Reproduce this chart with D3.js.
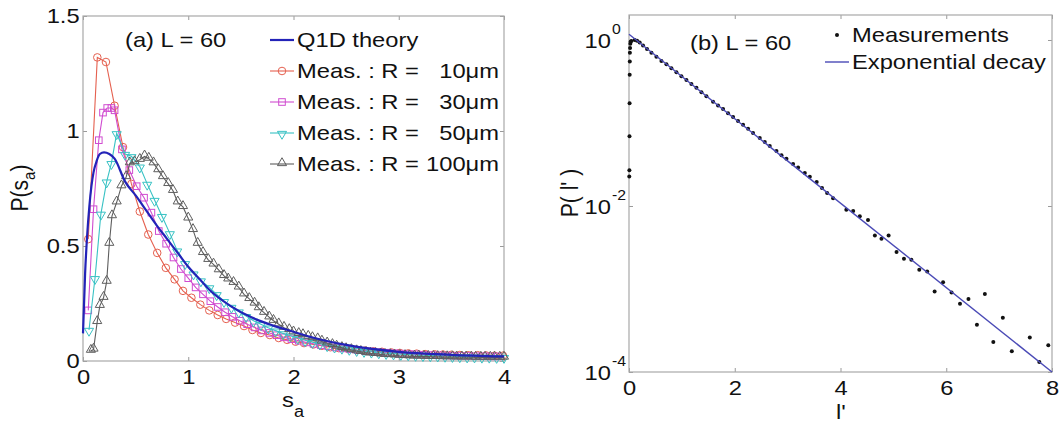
<!DOCTYPE html>
<html>
<head>
<meta charset="utf-8">
<script src="https://cdnjs.cloudflare.com/ajax/libs/d3/7.8.5/d3.min.js"></script>
<style>
body{margin:0;background:#fff;}
text{font-family:"Liberation Sans",Arial,sans-serif;fill:#111;}
</style>
</head>
<body>
<svg id="fig" width="1061" height="423"></svg>
<script>

// panel (a) : distribution of s_a
var theoryS = [0,0.02,0.04,0.06,0.08,0.1,0.13,0.16,0.2,0.25,0.3,0.4,0.5,0.6,0.7,0.8,0.9,1.0,1.1,1.2,1.4,1.6,1.8,2.0,2.2,2.5,3.0,3.5,4.0];
var theoryP = [0.12,0.38,0.55,0.67,0.76,0.82,0.87,0.9,0.907,0.9,0.88,0.78,0.72,0.655,0.59,0.53,0.47,0.41,0.36,0.31,0.24,0.19,0.155,0.127,0.1,0.07,0.04,0.027,0.02];

var r10S = [0.05,0.136,0.218,0.30,0.38,0.46,0.54,0.62,0.705,0.787,0.87,0.95,1.03,1.115,1.2,1.28,1.36,1.445,1.53,1.61,1.69,1.775,1.86,1.94,2.02,2.1,2.19,2.27,2.35,2.43,2.52,2.6,2.68,2.76,2.84,2.93,3.01,3.09,3.17,3.25,3.34,3.42,3.5,3.58,3.66,3.75,3.83,3.91,3.99];
var r10P = [0.53,1.32,1.30,1.11,0.93,0.77,0.65,0.55,0.47,0.405,0.355,0.305,0.275,0.245,0.22,0.2,0.183,0.167,0.152,0.135,0.122,0.113,0.1,0.092,0.084,0.078,0.072,0.066,0.06,0.056,0.052,0.048,0.045,0.042,0.04,0.037,0.035,0.033,0.032,0.03,0.029,0.028,0.027,0.026,0.025,0.025,0.024,0.023,0.023];

var r30S = [0.05,0.10,0.15,0.19,0.23,0.27,0.30,0.37,0.44,0.51,0.58,0.65,0.72,0.79,0.86,0.93,1.0,1.07,1.14,1.21,1.28,1.35,1.42,1.49,1.56,1.63,1.70,1.77,1.84,1.91,1.98,2.05,2.12,2.19,2.26,2.33,2.40,2.47,2.54,2.61,2.68,2.75,2.82,2.89,2.96,3.03,3.10,3.17,3.24,3.31,3.38,3.45,3.52,3.59,3.66,3.73,3.80,3.87,3.94];
var r30P = [0.22,0.66,0.96,1.08,1.10,1.10,1.09,0.92,0.83,0.76,0.71,0.645,0.565,0.51,0.45,0.40,0.36,0.32,0.29,0.26,0.235,0.212,0.192,0.175,0.16,0.146,0.133,0.122,0.112,0.103,0.095,0.088,0.081,0.075,0.069,0.064,0.059,0.055,0.051,0.047,0.044,0.041,0.038,0.036,0.034,0.032,0.030,0.029,0.027,0.026,0.025,0.024,0.023,0.022,0.022,0.021,0.021,0.020,0.020];

var r50S = [0.057,0.114,0.17,0.225,0.27,0.32,0.40,0.46,0.54,0.61,0.68,0.75,0.825,0.895,0.97,1.05,1.12,1.2,1.27,1.34,1.41,1.48,1.55,1.62,1.69,1.76,1.83,1.9,1.97,2.04,2.11,2.18,2.25,2.32,2.39,2.46,2.53,2.6,2.67,2.74,2.81,2.88,2.95,3.02,3.09,3.16,3.23,3.3,3.37,3.44,3.51,3.58,3.65,3.72,3.79,3.86,3.93,4.0];
var r50P = [0.135,0.36,0.64,0.78,0.86,0.99,0.90,0.89,0.845,0.77,0.70,0.63,0.555,0.48,0.425,0.38,0.35,0.32,0.29,0.26,0.235,0.215,0.195,0.175,0.16,0.145,0.132,0.12,0.11,0.1,0.09,0.082,0.075,0.068,0.062,0.057,0.052,0.047,0.043,0.04,0.037,0.034,0.032,0.03,0.028,0.026,0.025,0.024,0.023,0.022,0.021,0.02,0.019,0.019,0.018,0.018,0.017,0.017];

var r100S = [0.075,0.1,0.135,0.16,0.195,0.225,0.25,0.275,0.32,0.365,0.41,0.445,0.49,0.54,0.585,0.625,0.67,0.715,0.76,0.81,0.855,0.9,0.95,1.0,1.045,1.09,1.14,1.19,1.24,1.29,1.34,1.38,1.43,1.48,1.53,1.58,1.63,1.67,1.72,1.77,1.81,1.86,1.91,1.96,2.0,2.05,2.09,2.14,2.18,2.23,2.27,2.32,2.37,2.41,2.46,2.5,2.55,2.6,2.64,2.69,2.73,2.78,2.83,2.87,2.92,2.96,3.01,3.06,3.1,3.15,3.19,3.24,3.28,3.33,3.37,3.42,3.46,3.51,3.55,3.6,3.64,3.69,3.73,3.78,3.82,3.87,3.91,3.96,4.0];
var r100P = [0.045,0.05,0.17,0.24,0.275,0.345,0.51,0.63,0.69,0.76,0.80,0.86,0.865,0.875,0.89,0.88,0.86,0.83,0.80,0.77,0.74,0.69,0.67,0.62,0.57,0.51,0.47,0.44,0.42,0.395,0.37,0.355,0.34,0.32,0.29,0.27,0.25,0.23,0.21,0.19,0.175,0.16,0.145,0.135,0.125,0.118,0.113,0.106,0.1,0.095,0.085,0.077,0.07,0.063,0.057,0.052,0.048,0.043,0.04,0.036,0.033,0.031,0.029,0.027,0.026,0.025,0.023,0.022,0.021,0.02,0.02,0.019,0.019,0.018,0.018,0.017,0.017,0.017,0.016,0.016,0.016,0.016,0.015,0.015,0.015,0.015,0.015,0.015,0.015];

var radii = ["10\u03bcm", "30\u03bcm", "50\u03bcm", "100\u03bcm"];
var xTicksA = [0, 1, 2, 3, 4];
var yTicksA = [0, 0.5, 1, 1.5];

// panel (b) : distribution of l'
var measL = [0.005,0.007,0.009,0.011,0.013,0.015,0.017,0.02,0.025,0.03,0.045,0.108,0.152,0.202,0.265,0.341,0.424,0.518,0.613,0.708,0.802,0.897,0.991,1.086,1.18,1.275,1.37,1.464,1.59,1.684,1.779,1.873,1.968,2.062,2.157,2.252,2.346,2.473,2.568,2.662,2.789,2.884,2.978,3.103,3.198,3.325,3.42,3.55,3.65,3.747,3.86,4.11,4.24,4.365,4.52,4.65,4.775,4.91,5.06,5.20,5.34,5.49,5.64,5.78,5.94,6.10,6.26,6.42,6.58,6.73,6.89,7.07,7.24,7.58,7.76,7.93];
var measP = [0.0226,0.027,0.069,0.173,0.38,0.55,0.70,0.80,0.9,0.95,0.97,1.0,0.98,0.93,0.86,0.78,0.70,0.63,0.56,0.51,0.455,0.41,0.365,0.33,0.295,0.265,0.235,0.21,0.18,0.163,0.147,0.131,0.118,0.106,0.095,0.085,0.076,0.066,0.059,0.053,0.046,0.041,0.037,0.032,0.029,0.025,0.0225,0.0195,0.0165,0.0143,0.0124,0.009,0.0087,0.0075,0.0068,0.00442,0.00403,0.00442,0.00279,0.00232,0.00225,0.00171,0.00163,0.00093,0.00121,0.00091,0.000665,0.00076,0.00037,0.00087,0.00023,0.00045,0.000178,0.00026,0.000132,0.00021];
var fitL = [0, 8];
var fitP = [1.17, 1e-4];
var xTicksB = [0, 2, 4, 6, 8];
var yTicksB = [1e-4, 1e-2, 1];

var SX = 1.13;  // picture is a bit stretched sideways
var colors = {theory: "#2323b8", r10: "#e5604f", r30: "#d04cd0", r50: "#38c2c4", r100: "#5e5e5e", fit: "#4a4ab6"};

var svg = d3.select("#fig");

function label(g, x, y, str, anchor, size) {
	return g.append("text")
		.attr("transform", "translate(" + x + "," + y + ") scale(" + SX + ",1)")
		.attr("text-anchor", anchor || "start")
		.attr("dy", "0.35em")
		.style("font-size", (size || 21) + "px")
		.text(str);
}

function frame(x, y, xt, yt, yfmt) {
	var x0 = x.range()[0], x1 = x.range()[1], y0 = y.range()[0], y1 = y.range()[1];
	var axes = [
		svg.append("g").attr("transform", "translate(0," + y0 + ")")
			.call(d3.axisBottom(x).tickValues(xt).tickSize(-4).tickPadding(8.5).tickFormat(d3.format(""))),
		svg.append("g").attr("transform", "translate(0," + y1 + ")")
			.call(d3.axisTop(x).tickValues(xt).tickSize(-4).tickFormat("")),
		svg.append("g").attr("transform", "translate(" + x0 + ",0)")
			.call(d3.axisLeft(y).tickValues(yt).tickSize(-4).tickPadding(3).tickFormat(yfmt)),
		svg.append("g").attr("transform", "translate(" + x1 + ",0)")
			.call(d3.axisRight(y).tickValues(yt).tickSize(-4).tickFormat(""))
	];
	axes.forEach(function(a) {
		a.select(".domain").remove();
		a.selectAll(".tick line").attr("stroke", "#9a9a9a");
		a.selectAll(".tick text")
			.attr("fill", "#111")
			.style("font-size", "21px")
			.style("font-family", '"Liberation Sans",Arial,sans-serif')
			.attr("transform", "scale(" + SX + ",1)");
	});
	svg.append("rect")
		.attr("x", x0).attr("y", y1)
		.attr("width", x1 - x0).attr("height", y0 - y1)
		.attr("fill", "none").attr("stroke", "#a8a8a8").attr("stroke-width", 1.2);
	return axes;
}

function marker(g, type, cx, cy, color) {
	if (type == "circle") {
		g.append("circle").attr("cx", cx).attr("cy", cy).attr("r", 3.8)
			.attr("fill", "none").attr("stroke", color).attr("stroke-width", 1);
	} else if (type == "square") {
		g.append("rect").attr("x", cx - 3.3).attr("y", cy - 3.3).attr("width", 6.6).attr("height", 6.6)
			.attr("fill", "none").attr("stroke", color).attr("stroke-width", 1);
	} else {
		g.append("path")
			.attr("d", d3.symbol().type(d3.symbolTriangle).size(36)())
			.attr("transform", "translate(" + cx + "," + (type == "down" ? cy + 1 : cy - 1) + ")" + (type == "down" ? " rotate(180)" : ""))
			.attr("fill", "none").attr("stroke", color).attr("stroke-width", 1);
	}
}

// ---------- panel (a) ----------
var ax = d3.scaleLinear().domain([0, 4]).range([83, 504]);
var ay = d3.scaleLinear().domain([0, 1.5]).range([361, 16]);
frame(ax, ay, xTicksA, yTicksA, d3.format(""));

var series = [
	{s: r10S, p: r10P, color: colors.r10, type: "circle"},
	{s: r30S, p: r30P, color: colors.r30, type: "square"},
	{s: r50S, p: r50P, color: colors.r50, type: "down"},
	{s: r100S, p: r100P, color: colors.r100, type: "up"}
];

var plotA = svg.append("g");
series.forEach(function(d) {
	var pts = d.s.map(function(v, i) { return [v, d.p[i]]; });
	plotA.append("path")
		.attr("d", d3.line().x(function(q) { return ax(q[0]); }).y(function(q) { return ay(q[1]); })(pts))
		.attr("fill", "none").attr("stroke", d.color).attr("stroke-width", 1.1);
	pts.forEach(function(q) { marker(plotA, d.type, ax(q[0]), ay(q[1]), d.color); });
});

var theoryPts = theoryS.map(function(v, i) { return [v, theoryP[i]]; });
plotA.append("path")
	.attr("d", d3.line().curve(d3.curveMonotoneX)
		.x(function(q) { return ax(q[0]); }).y(function(q) { return ay(q[1]); })(theoryPts))
	.attr("fill", "none").attr("stroke", colors.theory).attr("stroke-width", 2.2);

// legend (a)
label(svg, 125, 40, "(a) L = 60");
svg.append("line").attr("x1", 270).attr("x2", 294).attr("y1", 40).attr("y2", 40)
	.attr("stroke", colors.theory).attr("stroke-width", 2.2);
label(svg, 297, 40, "Q1D theory");
series.forEach(function(d, i) {
	var ly = 40 + 31 * (i + 1);
	svg.append("line").attr("x1", 270).attr("x2", 294).attr("y1", ly).attr("y2", ly)
		.attr("stroke", d.color).attr("stroke-width", 1.1);
	marker(svg, d.type, 282, ly, d.color);
	label(svg, 297, ly, "Meas. : R =");
	label(svg, 499, ly, radii[i], "end");
});

// axis titles (a)
var ylabA = svg.append("text")
	.attr("transform", "translate(28,188) rotate(-90) scale(1," + SX + ")")
	.attr("text-anchor", "middle").style("font-size", "21px");
ylabA.append("tspan").text("P(s");
ylabA.append("tspan").attr("dy", 6).style("font-size", "15px").text("a");
ylabA.append("tspan").attr("dy", -6).text(")");

var xlabA = svg.append("text")
	.attr("transform", "translate(293,407) scale(" + SX + ",1)")
	.attr("text-anchor", "middle").style("font-size", "21px");
xlabA.append("tspan").text("s");
xlabA.append("tspan").attr("dy", 10).style("font-size", "16px").text("a");

// ---------- panel (b) ----------
var bx = d3.scaleLinear().domain([0, 8]).range([629, 1052]);
var by = d3.scaleLog().domain([1e-4, 2]).range([372, 15]);
frame(bx, by, xTicksB, yTicksB, function() { return ""; });

yTicksB.forEach(function(v) {
	label(svg, 611, by(v) + 1, "10", "end");
	label(svg, 612, by(v) - 11, String(Math.round(Math.log10(v))), "start", 14);
});

var plotB = svg.append("g");
plotB.selectAll("circle.meas")
	.data(measL)
	.enter()
	.append("circle")
	.attr("class", "meas")
	.attr("cx", function(d) { return bx(d); })
	.attr("cy", function(d, i) { return by(measP[i]); })
	.attr("r", 2)
	.attr("fill", "#111");

plotB.append("path")
	.attr("d", d3.line().x(function(d) { return bx(d); }).y(function(d, i) { return by(fitP[i]); })(fitL))
	.attr("fill", "none").attr("stroke", colors.fit).attr("stroke-width", 1.4);

// legend (b)
label(svg, 690, 43, "(b) L = 60");
svg.append("circle").attr("cx", 837).attr("cy", 35).attr("r", 2).attr("fill", "#111");
label(svg, 852, 35, "Measurements");
svg.append("line").attr("x1", 825).attr("x2", 849).attr("y1", 62).attr("y2", 62)
	.attr("stroke", colors.fit).attr("stroke-width", 1.4);
label(svg, 852, 62, "Exponential decay");

// axis titles (b)
svg.append("text")
	.attr("transform", "translate(578,193) rotate(-90) scale(1," + SX + ")")
	.attr("text-anchor", "middle").style("font-size", "21px")
	.text("P(\u00a0l'\u00a0)");
svg.append("text")
	.attr("transform", "translate(841,418.5) scale(" + SX + ",1)")
	.attr("text-anchor", "middle").style("font-size", "21px")
	.text("l'");

</script>
</body>
</html>
